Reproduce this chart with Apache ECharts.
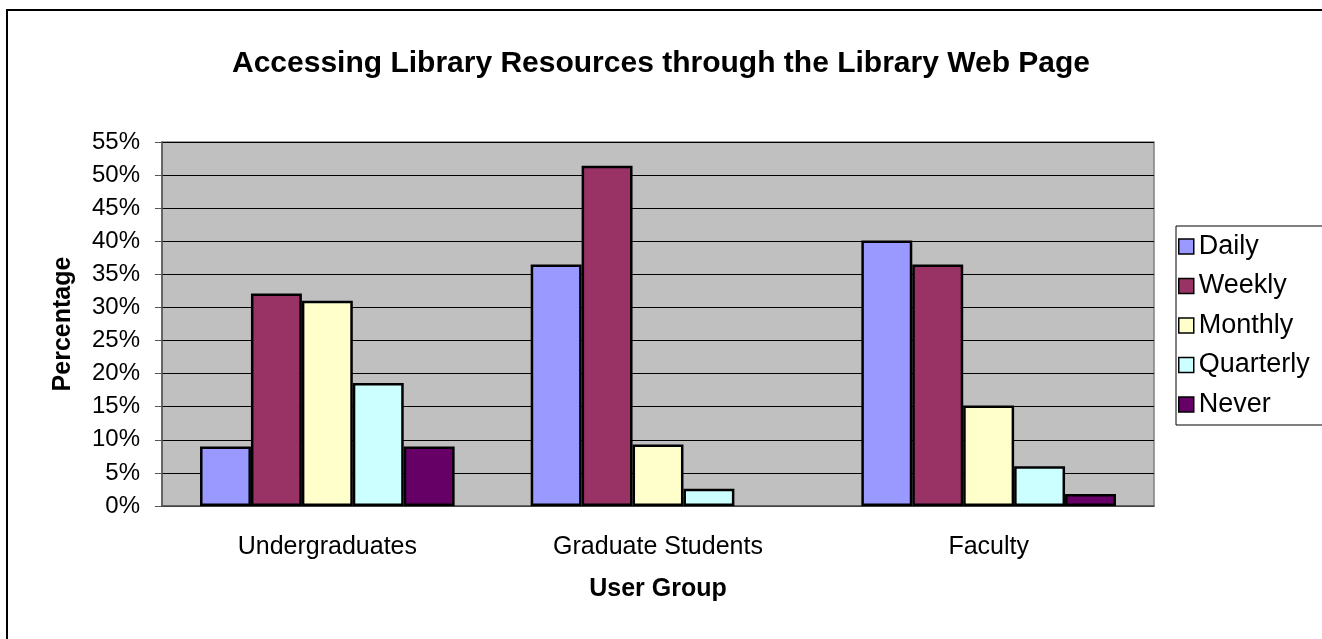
<!DOCTYPE html>
<html>
<head>
<meta charset="utf-8">
<script src="https://cdn.jsdelivr.net/npm/echarts@6/dist/echarts.min.js"></script>
<style>
html,body{margin:0;padding:0;background:#fff;}
#chart{width:1322px;height:639px;}
</style>
</head>
<body>
<div id="chart"></div>
<script>
const categories = ['Undergraduates', 'Graduate Students', 'Faculty'];
const seriesNames = ['Daily', 'Weekly', 'Monthly', 'Quarterly', 'Never'];
const daily = [9.0, 36.5, 40.1];
const weekly = [32.1, 51.4, 36.5];
const monthly = [31.0, 9.3, 15.2];
const quarterly = [18.6, 2.6, 6.0];
const never = [9.0, 0, 1.8];
const seriesColors = ['#9999FF', '#993366', '#FFFFCC', '#CCFFFF', '#660066'];
const seriesValues = [daily, weekly, monthly, quarterly, never];

const FONT = 'Liberation Sans, Arial, sans-serif';
const chart = echarts.init(document.getElementById('chart'), null, {renderer: 'canvas'});

chart.setOption({
  animation: false,
  backgroundColor: '#fff',
  graphic: [{
    type: 'rect',
    shape: {x: 7, y: 10, width: 1400, height: 700},
    style: {fill: 'none', stroke: '#000', lineWidth: 2},
    z: -1
  }],
  title: {
    text: 'Accessing Library Resources through the Library Web Page',
    left: 'center',
    top: 44,
    textStyle: {fontFamily: FONT, fontSize: 30, fontWeight: 'bold', color: '#000'}
  },
  legend: {
    orient: 'vertical',
    left: 1176,
    top: 226,
    padding: [7, 200, 7, 2],
    borderColor: '#000',
    borderWidth: 1,
    itemWidth: 15,
    itemHeight: 15,
    itemGap: 12.5,
    icon: 'rect',
    itemStyle: {borderColor: '#000', borderWidth: 1.5},
    textStyle: {fontFamily: FONT, fontSize: 27, color: '#000', padding: [0, 0, 0, 0]},
    data: seriesNames
  },
  grid: {
    left: 162, right: 168, top: 142, bottom: 133,
    show: true,
    backgroundColor: '#C0C0C0',
    borderColor: '#808080',
    borderWidth: 1.5
  },
  xAxis: {
    type: 'category',
    data: categories,
    name: 'User Group',
    nameLocation: 'middle',
    nameGap: 71,
    nameTextStyle: {fontFamily: FONT, fontSize: 25, fontWeight: 'bold', color: '#000'},
    axisLine: {lineStyle: {color: '#555', width: 1.5}},
    axisTick: {length: 7, lineStyle: {color: '#555'}},
    axisLabel: {fontFamily: FONT, fontSize: 25, color: '#000', margin: 29}
  },
  yAxis: {
    type: 'value',
    min: 0, max: 55, interval: 5,
    name: 'Percentage',
    nameLocation: 'middle',
    nameGap: 86,
    nameTextStyle: {fontFamily: FONT, fontSize: 25, fontWeight: 'bold', color: '#000'},
    axisLine: {show: true, lineStyle: {color: '#555', width: 1.5}},
    axisTick: {show: true, length: 7, lineStyle: {color: '#555'}},
    axisLabel: {fontFamily: FONT, fontSize: 24, color: '#000', margin: 22, formatter: '{value}%'},
    splitLine: {show: true, lineStyle: {color: '#000', width: 1}}
  },
  series: seriesNames.map((name, i) => ({
    name: name,
    type: 'bar',
    data: seriesValues[i].map(v => v === 0 ? {value: v, itemStyle: {borderWidth: 0}} : v),
    barGap: '0%',
    barCategoryGap: '23%',
    itemStyle: {color: seriesColors[i], borderColor: '#000', borderWidth: 2.5}
  }))
});
</script>
</body>
</html>
